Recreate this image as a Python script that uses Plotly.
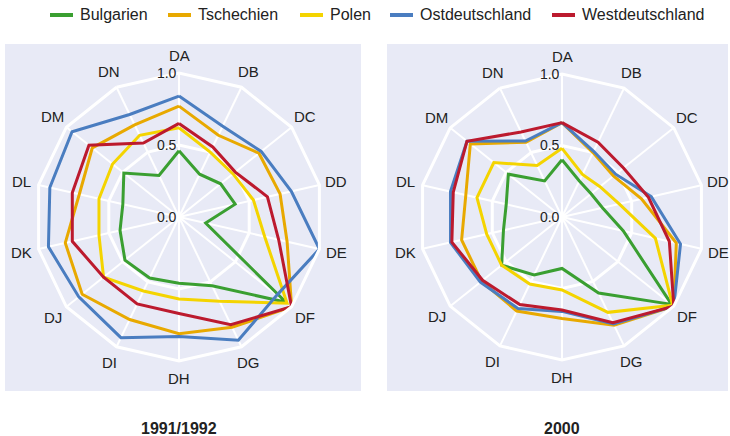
import math
import plotly.graph_objects as go

categories = ["DA", "DB", "DC", "DD", "DE", "DF", "DG", "DH", "DI", "DJ", "DK", "DL", "DM", "DN"]
series_names = ["Bulgarien", "Tschechien", "Polen", "Ostdeutschland", "Westdeutschland"]
colors = ["#3A9F31", "#E8A900", "#F4D400", "#4A7DC0", "#BC1A2E"]

# 1991/1992
bulgarien_1991 = [0.46, 0.33, 0.37, 0.40, 0.19, 0.95, 0.53, 0.46, 0.47, 0.48, 0.42, 0.40, 0.49, 0.32]
tschechien_1991 = [0.77, 0.63, 0.71, 0.72, 0.77, 1.00, 0.85, 0.81, 0.79, 0.86, 0.81, 0.71, 0.77, 0.71]
polen_1991 = [0.62, 0.50, 0.48, 0.53, 0.61, 0.96, 0.65, 0.57, 0.57, 0.67, 0.57, 0.57, 0.59, 0.63]
ost_1991 = [0.84, 0.70, 0.73, 0.80, 1.00, 0.87, 0.95, 0.83, 0.93, 0.89, 0.93, 0.92, 0.95, 0.79]
west_1991 = [0.65, 0.54, 0.50, 0.63, 0.71, 1.00, 0.83, 0.67, 0.67, 0.67, 0.76, 0.76, 0.80, 0.57]

# 2000
bulgarien_2000 = [0.40, 0.28, 0.26, 0.29, 0.44, 0.98, 0.59, 0.36, 0.45, 0.54, 0.42, 0.40, 0.48, 0.28]
tschechien_2000 = [0.66, 0.50, 0.46, 0.57, 0.82, 1.00, 0.84, 0.71, 0.73, 0.72, 0.72, 0.69, 0.82, 0.58]
polen_2000 = [0.48, 0.33, 0.34, 0.41, 0.67, 0.99, 0.74, 0.51, 0.52, 0.54, 0.54, 0.61, 0.61, 0.40]
ost_2000 = [0.66, 0.51, 0.48, 0.64, 0.85, 1.00, 0.83, 0.66, 0.71, 0.73, 0.80, 0.80, 0.85, 0.59]
west_2000 = [0.66, 0.58, 0.55, 0.62, 0.77, 1.00, 0.82, 0.65, 0.68, 0.71, 0.79, 0.78, 0.85, 0.66]

panel_titles = ["1991/1992", "2000"]
radial_ticks = [0.0, 0.5, 1.0]
radial_ticktext = ["0.0", "0.5", "1.0"]

data_1991 = [bulgarien_1991, tschechien_1991, polen_1991, ost_1991, west_1991]
data_2000 = [bulgarien_2000, tschechien_2000, polen_2000, ost_2000, west_2000]

FONT = "Liberation Sans, Arial, sans-serif"
BG = "#E8EAF6"
W, H = 730, 436

fig = go.Figure()
for subplot, dataset in (("polar", data_1991), ("polar2", data_2000)):
    for name, color, vals in zip(series_names, colors, dataset):
        fig.add_trace(go.Scatterpolar(
            r=vals + [vals[0]],
            theta=categories + [categories[0]],
            mode="lines",
            name=name,
            legendgroup=name,
            showlegend=False,
            line=dict(color=color, width=3),
            subplot=subplot,
            hoverinfo="skip",
        ))


def polar_layout(cx, cy, R):
    return dict(
        domain=dict(x=[(cx - R) / W, (cx + R) / W], y=[1 - (cy + R) / H, 1 - (cy - R) / H]),
        bgcolor=BG,
        gridshape="linear",
        radialaxis=dict(
            range=[0, 1], tickvals=radial_ticks, ticktext=radial_ticktext,
            angle=90, tickangle=90, side="counterclockwise",
            showline=False, ticks="",
            gridcolor="white", gridwidth=2.5,
            tickfont=dict(family=FONT, size=14, color="#222"),
        ),
        angularaxis=dict(
            type="category", categoryarray=categories,
            direction="clockwise", rotation=90,
            gridcolor="white", gridwidth=2,
            showline=True, linecolor="white", linewidth=3,
            ticks="", showticklabels=False,
        ),
    )

shapes = [
    dict(type="rect", xref="paper", yref="paper", layer="below",
         x0=5 / W, x1=361 / W, y0=1 - 391 / H, y1=1 - 44 / H,
         fillcolor=BG, line=dict(width=0)),
    dict(type="rect", xref="paper", yref="paper", layer="below",
         x0=387 / W, x1=728 / W, y0=1 - 391 / H, y1=1 - 44 / H,
         fillcolor=BG, line=dict(width=0)),
]
annotations = []

# category labels, centred on a circle just outside each polygon
panels = [(179, 217, 144), (562, 217, 143)]
n = len(categories)
for cx, cy, R in panels:
    lr = R * 1.12
    for i, cat in enumerate(categories):
        a = math.radians(90 - i * 360 / n)
        annotations.append(dict(
            text=cat, x=(cx + lr * math.cos(a)) / W, y=1 - (cy - lr * math.sin(a)) / H,
            xref="paper", yref="paper", xanchor="center", yanchor="middle",
            showarrow=False, font=dict(family=FONT, size=15, color="#222")))

# custom legend row (glyph + label)
legend_x = [50, 168, 300, 390, 552]
for lx, name, color in zip(legend_x, series_names, colors):
    shapes.append(dict(type="line", xref="paper", yref="paper",
                       x0=lx / W, x1=(lx + 23) / W, y0=1 - 15 / H, y1=1 - 15 / H,
                       line=dict(color=color, width=4)))
    annotations.append(dict(text=name, x=(lx + 28) / W, y=1 - 15 / H, xref="paper", yref="paper",
                            xanchor="left", yanchor="middle", showarrow=False,
                            font=dict(family=FONT, size=16, color="#222")))

for title, (cx, cy, R) in zip(panel_titles, panels):
    annotations.append(dict(text="<b>%s</b>" % title, x=cx / W, y=1 - 428 / H, xref="paper", yref="paper",
                            xanchor="center", yanchor="middle", showarrow=False,
                            font=dict(family=FONT, size=16, color="#222")))

fig.update_layout(
    template="none",
    width=W, height=H,
    margin=dict(l=0, r=0, t=0, b=0),
    paper_bgcolor="white",
    showlegend=False,
    polar=polar_layout(*panels[0]),
    polar2=polar_layout(*panels[1]),
    font=dict(family=FONT, size=15, color="#222"),
    shapes=shapes,
    annotations=annotations,
)

fig.write_html("out.html", config={"displayModeBar": False},
               post_script="document.body.style.margin='0';document.body.style.overflow='hidden';")
